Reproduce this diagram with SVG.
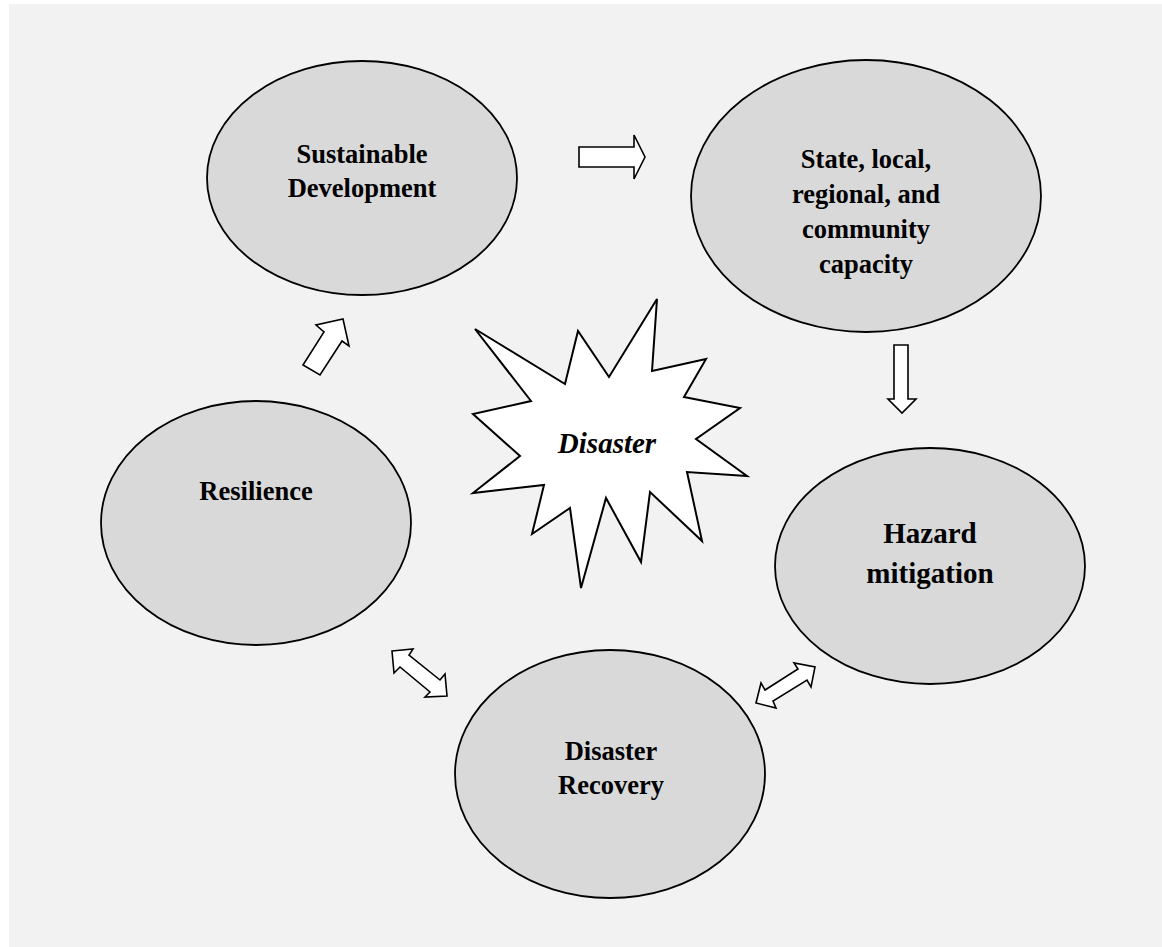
<svg xmlns="http://www.w3.org/2000/svg" width="1162" height="947" viewBox="0 0 1162 947">
<style>
.node ellipse{fill:#d9d9d9;stroke:#000;stroke-width:1.8}
.lbl{font-family:"Liberation Serif","Times New Roman",serif;font-weight:bold;font-size:26.5px;fill:#000;text-anchor:middle}
.big{font-size:29px}
.arr{fill:#fff;stroke:#000;stroke-width:1.6;stroke-linejoin:miter}
</style>
<rect x="0" y="0" width="1162" height="947" fill="#fff"/>
<rect x="9" y="4" width="1153" height="943" fill="#f2f2f2"/>
<g id="sustainable" class="node">
<ellipse cx="362" cy="178" rx="155" ry="117"/>
<text class="lbl" x="362" y="163">Sustainable</text>
<text class="lbl" x="362" y="197">Development</text>
</g>
<g id="capacity" class="node">
<ellipse cx="866" cy="196" rx="175" ry="136"/>
<text class="lbl" x="866" y="168">State, local,</text>
<text class="lbl" x="866" y="203">regional, and</text>
<text class="lbl" x="866" y="238">community</text>
<text class="lbl" x="866" y="273">capacity</text>
</g>
<g id="resilience" class="node">
<ellipse cx="256" cy="523" rx="155" ry="122"/>
<text class="lbl" x="256" y="500">Resilience</text>
</g>
<g id="hazard" class="node">
<ellipse cx="930" cy="566" rx="155" ry="118"/>
<text class="lbl big" x="930" y="543">Hazard</text>
<text class="lbl big" x="930" y="583">mitigation</text>
</g>
<g id="recovery" class="node">
<ellipse cx="610" cy="774" rx="155" ry="124"/>
<text class="lbl" x="611" y="760">Disaster</text>
<text class="lbl" x="611" y="794">Recovery</text>
</g>
<g id="disaster">
<polygon fill="#fff" stroke="#000" stroke-width="2" points="475,329 565,384 578,331 609,377 657,299 652,371 706,359 684,397 740,408 696,439 747,476 687,472 702,541 650,492 641,562 606,498 581,588 570,508 532,534 544,485 473,493 520,456 473,414 531,401"/>
<text class="lbl" x="607" y="453" style="font-style:italic;font-size:29px">Disaster</text>
</g>
<g id="connectors">
<polygon class="arr" points="579,147 634,147 634,135 645,157 634,179 634,167 579,167"/>
<polygon class="arr" points="894,345 908,345 908,399 916,399 902,413 888,399 894,399"/>
<polygon class="arr" points="303,365 324,332 316,325 343,319 349,346 342,341 320,375"/>
<polygon class="arr" points="392,651 413,649 409,655 440,680 445,674 447,696 425,697 430,692 400,667 394,673"/>
<polygon class="arr" points="756,703 761,683 765,690 798,669 794,663 815,667 811,687 807,680 773,701 776,708"/>
</g>
</svg>
